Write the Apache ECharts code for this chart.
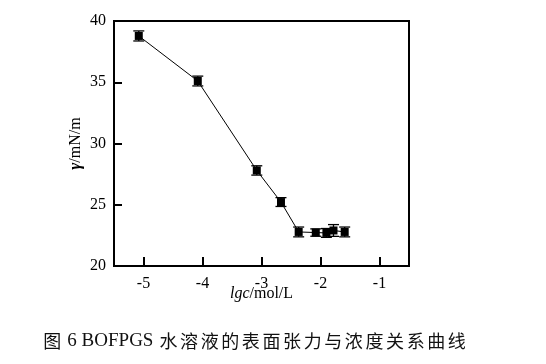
<!DOCTYPE html>
<html><head><meta charset="utf-8">
<script src="https://cdn.jsdelivr.net/npm/echarts@6/dist/echarts.min.js"></script>
<style>html,body{margin:0;padding:0;background:#fff}#c{width:546px;height:364px}</style>
</head><body><div id="c"></div>
<script>
// Data
const lgc = [-5.08, -4.08, -3.08, -2.67, -2.37, -2.08, -1.90, -1.78, -1.59];
const gamma = [38.78, 35.10, 27.80, 25.22, 22.78, 22.73, 22.70, 22.90, 22.78];
const errs = [0.41, 0.40, 0.38, 0.36, 0.40, 0.30, 0.36, 0.48, 0.40];
const xTicks = [-5, -4, -3, -2, -1];
const yTicks = [20, 25, 30, 35, 40];
const caption = "图 6 BOFPGS 水溶液的表面张力与浓度关系曲线";

const serif = "'Liberation Serif','Times New Roman',serif";
const pts = lgc.map((x, i) => [x, gamma[i]]);
const errData = lgc.map((x, i) => [x, gamma[i] - errs[i], gamma[i] + errs[i]]);

// caption rich text: CJK characters spaced out
let capRich = '';
for (const ch of caption) {
  if (/[\u4e00-\u9fff]/.test(ch)) capRich += '{c|' + ch + '}';
  else capRich += '{l|' + ch + '}';
}

const chart = echarts.init(document.getElementById('c'), null, {renderer: 'canvas'});
chart.setOption({
  backgroundColor: '#fff',
  animation: false,
  grid: {left: 114, right: 137, top: 21, bottom: 98, show: true, borderColor: '#000', borderWidth: 2, backgroundColor: 'transparent'},
  xAxis: {
    type: 'value', min: -5.5, max: -0.5,
    splitLine: {show: false},
    axisLine: {show: true, onZero: false, lineStyle: {color: '#000', width: 2}},
    axisTick: {show: true, inside: true, length: 9, lineStyle: {color: '#000', width: 2}, customValues: xTicks},
    axisLabel: {color: '#000', fontFamily: serif, fontSize: 16, margin: 10, customValues: xTicks},
    name: '{i|lgc}{n|/mol/L}', nameLocation: 'middle', nameGap: 20, nameMoveOverlap: false,
    nameTextStyle: {rich: {
      i: {fontFamily: serif, fontStyle: 'italic', fontSize: 16, color: '#000'},
      n: {fontFamily: serif, fontSize: 16, color: '#000'}
    }}
  },
  yAxis: {
    type: 'value', min: 20, max: 40, interval: 5,
    splitLine: {show: false},
    axisLine: {show: true, onZero: false, lineStyle: {color: '#000', width: 2}},
    axisTick: {show: true, inside: true, length: 8, lineStyle: {color: '#000', width: 2}},
    axisLabel: {color: '#000', fontFamily: serif, fontSize: 16, margin: 8},
    name: '{g|γ}{n|/mN/m}', nameLocation: 'middle', nameGap: 30, nameRotate: 90, nameMoveOverlap: false,
    nameTextStyle: {rich: {
      g: {fontFamily: serif, fontStyle: 'italic', fontWeight: 'bold', fontSize: 17, color: '#000'},
      n: {fontFamily: serif, fontSize: 16, color: '#000'}
    }}
  },
  title: {
    text: capRich, left: 42, top: 332, padding: 0,
    textStyle: {fontWeight: 'normal', rich: {
      c: {fontFamily: "'Noto Sans CJK SC',sans-serif", fontWeight: 'normal', fontSize: 18, color: '#111', padding: [0, 1.3, 0, 1.3]},
      l: {fontFamily: serif, fontWeight: 'normal', fontSize: 19, color: '#111'}
    }}
  },
  series: [
    {
      type: 'line', data: pts, symbol: 'rect', symbolSize: 8,
      lineStyle: {color: '#000', width: 1}, itemStyle: {color: '#000'}, z: 3
    },
    {
      type: 'custom', data: errData, z: 4,
      renderItem: function (params, api) {
        const x = api.value(0);
        const lo = api.coord([x, api.value(1)]);
        const hi = api.coord([x, api.value(2)]);
        const hw = 5.5;
        const st = {stroke: '#000', lineWidth: 1.3};
        return {type: 'group', children: [
          {type: 'line', shape: {x1: lo[0], y1: lo[1], x2: hi[0], y2: hi[1]}, style: st},
          {type: 'line', shape: {x1: lo[0] - hw, y1: lo[1], x2: lo[0] + hw, y2: lo[1]}, style: st},
          {type: 'line', shape: {x1: hi[0] - hw, y1: hi[1], x2: hi[0] + hw, y2: hi[1]}, style: st}
        ]};
      }
    }
  ]
});
</script></body></html>
